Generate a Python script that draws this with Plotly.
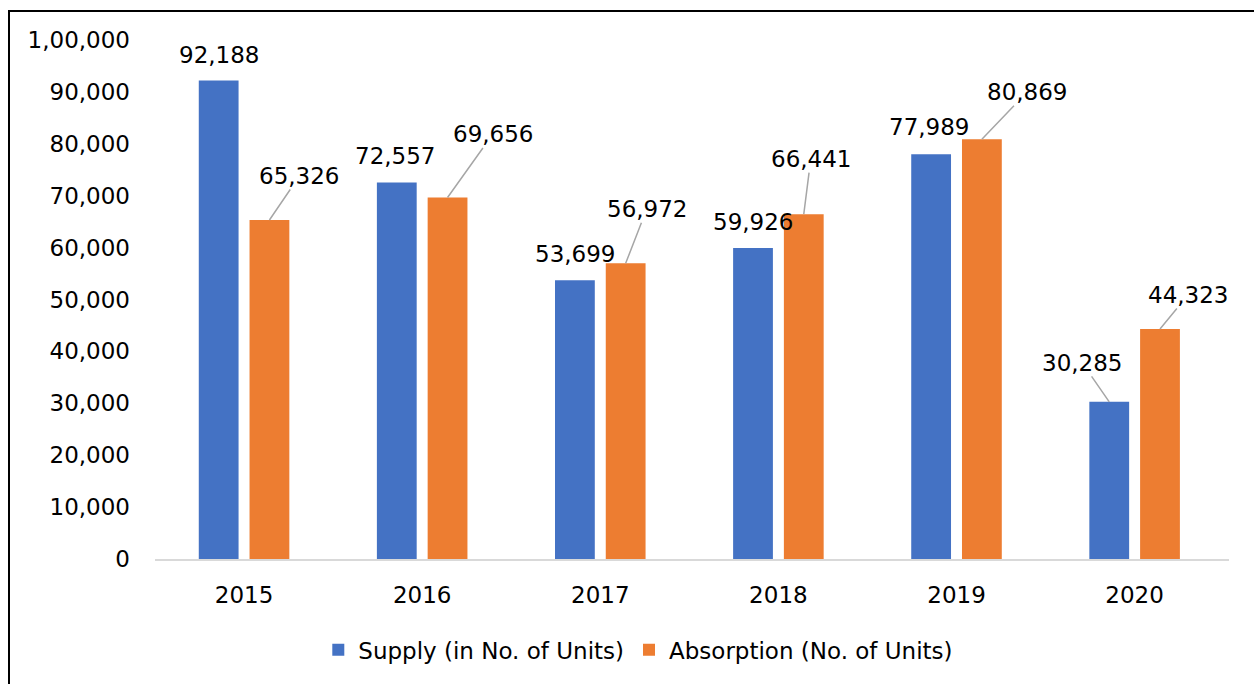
import plotly.graph_objects as go

# ---- data ----
years = ["2015", "2016", "2017", "2018", "2019", "2020"]
supply = [92188, 72557, 53699, 59926, 77989, 30285]
absorption = [65326, 69656, 56972, 66441, 80869, 44323]
supply_name = "Supply (in No. of Units)"
absorption_name = "Absorption (No. of Units)"
y_tick_vals = [0, 10000, 20000, 30000, 40000, 50000, 60000, 70000, 80000, 90000, 100000]
y_tick_text = ["0", "10,000", "20,000", "30,000", "40,000", "50,000",
               "60,000", "70,000", "80,000", "90,000", "1,00,000"]

# ---- styling ----
BLUE = "#4472C4"
ORANGE = "#ED7D31"
FONT = "DejaVu Sans"
FS = 23
BARGAP = 0.43
BARGROUPGAP = 0.216

# label placement (pixel offsets of label centre from bar top) and leader-line flag
supply_label_pos = [(0, -26, False), (-2, -26, False), (0, -26, False),
                    (0, -26, False), (-2, -27, False), (-27, -39, True)]
absorption_label_pos = [(30, -44, True), (45, -63, True), (21, -54, True),
                        (7, -55, True), (45, -47, True), (28, -34, True)]

fig = go.Figure()
fig.add_trace(go.Bar(x=years, y=supply, name=supply_name, marker_color=BLUE,
                     marker_line_width=0))
fig.add_trace(go.Bar(x=years, y=absorption, name=absorption_name, marker_color=ORANGE,
                     marker_line_width=0))

offset = (1 - BARGAP) / 4.0
annotations = []
for series, pos, sign in ((supply, supply_label_pos, -1), (absorption, absorption_label_pos, 1)):
    for i, (v, (ax, ay, line)) in enumerate(zip(series, pos)):
        annotations.append(dict(
            x=i + sign * offset, y=v, xref="x", yref="y",
            text=f"{v:,}", showarrow=True, ax=ax, ay=ay,
            axref="pixel", ayref="pixel",
            arrowhead=0, arrowwidth=1.5, standoff=0, startstandoff=0,
            arrowcolor="#A6A6A6" if line else "rgba(0,0,0,0)",
            font=dict(family=FONT, size=FS, color="black"),
            borderpad=0,
        ))

fig.update_layout(
    width=1254, height=684,
    margin=dict(l=155, r=25, t=40, b=125),
    paper_bgcolor="white", plot_bgcolor="white",
    barmode="group", bargap=BARGAP, bargroupgap=BARGROUPGAP,
    font=dict(family=FONT, size=FS, color="black"),
    showlegend=True,
    legend=dict(orientation="h", x=0.45, xanchor="center", y=-0.175, yanchor="middle",
                font=dict(family=FONT, size=FS, color="black"),
                traceorder="normal", itemclick=False),
    annotations=annotations,
    shapes=[dict(type="rect", xref="paper", yref="paper",
                 x0=(9 - 155) / 1074, x1=1.3, y0=-0.4, y1=(559 - 11) / 519,
                 line=dict(color="black", width=2), fillcolor="rgba(0,0,0,0)",
                 layer="below")],
)
fig.update_xaxes(type="category", showgrid=False, showline=True, linecolor="#D9D9D9",
                 linewidth=2, ticks="", ticklabelstandoff=14,
                 tickfont=dict(family=FONT, size=FS, color="black"))
fig.update_yaxes(range=[0, 100000], tickvals=y_tick_vals, ticktext=y_tick_text,
                 showgrid=False, zeroline=False, showline=False, ticks="",
                 ticklabelstandoff=24,
                 tickfont=dict(family=FONT, size=FS, color="black"))

fig.write_html("out.html", config={"displayModeBar": False},
               post_script="document.body.style.margin='0px';document.body.style.overflow='hidden';")
